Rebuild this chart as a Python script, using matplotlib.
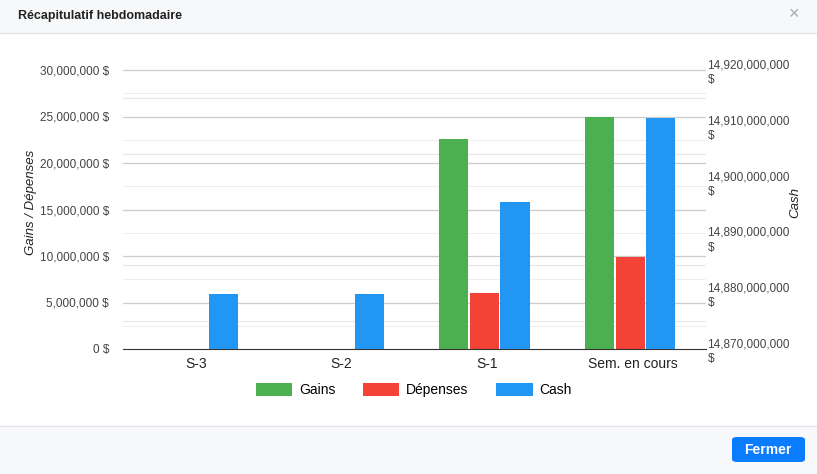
import matplotlib
matplotlib.use("Agg")
import matplotlib.pyplot as plt
from matplotlib.patches import Rectangle, FancyBboxPatch
import numpy as np

plt.rcParams["font.family"] = ["Liberation Sans", "DejaVu Sans"]

categories = ["S-3", "S-2", "S-1", "Sem. en cours"]
gains = [0, 0, 22_600_000, 25_000_000]
depenses = [0, 0, 6_000_000, 9_900_000]
cash = [14_879_900_000, 14_879_900_000, 14_896_300_000, 14_911_400_000]

W, H = 817, 474
fig = plt.figure(figsize=(W / 100, H / 100), dpi=100)
fig.patch.set_facecolor("white")

# dialog chrome
fig.patches.append(Rectangle((0, 1 - 33 / H), 1, 33 / H, transform=fig.transFigure, facecolor="#f7f8fa", edgecolor="none", zorder=-5))
fig.lines.append(plt.Line2D([0, 1], [1 - 33 / H] * 2, transform=fig.transFigure, color="#e3e5e8", lw=1))
fig.patches.append(Rectangle((0, 0), 1, 48 / H, transform=fig.transFigure, facecolor="#f7f8fa", edgecolor="none", zorder=-5))
fig.lines.append(plt.Line2D([0, 1], [48 / H] * 2, transform=fig.transFigure, color="#e3e5e8", lw=1))
fig.text(18 / W, 1 - 16 / H, "Récapitulatif hebdomadaire", fontsize=9, fontweight="bold", va="center", color="#222")
fig.text(794 / W, 1 - 15 / H, "×", fontsize=13, color="#aaa", ha="center", va="center")
fig.patches.append(FancyBboxPatch((732 / W, 12 / H), 73 / W, 25 / H, boxstyle="round,pad=0,rounding_size=0.006",
                                  transform=fig.transFigure, facecolor="#0a7cff", edgecolor="none"))
fig.text(768 / W, 24.5 / H, "Fermer", fontsize=10, fontweight="bold", color="white", ha="center", va="center")

ax = fig.add_axes([123 / W, 1 - 349 / H, 583 / W, 294 / H])
ax2 = ax.twinx()
x = np.arange(len(categories))
w = 0.2
shift = -0.02

top = 30_000_000 * 294 / 279
ax.set_ylim(0, top)
ax2.set_ylim(14_870_000_000, 14_870_000_000 + top * 5 / 3)
ax.set_xlim(-0.5, 3.5)

# grid lines on the left axes (beneath everything)
lt = np.arange(0, 30_000_001, 5_000_000)
for v in lt[1:]:
    ax.axhline(v, color="#cccccc", lw=0.9, zorder=1)
for v in np.arange(3_000_000, 30_000_000, 6_000_000):
    ax.axhline(v, color="#e6e6e6", lw=0.8, zorder=0.5)
for v in np.arange(2_500_000, 30_000_000, 5_000_000):
    ax.axhline(v, color="#efefef", lw=0.8, zorder=0.5)

ax.bar(x + shift - 0.21, gains, w, color="#4caf50", label="Gains", zorder=3)
ax.bar(x + shift, depenses, w, color="#f44336", label="Dépenses", zorder=3)
ax2.bar(x + shift + 0.21, cash, w, color="#2196f3", label="Cash", zorder=3)

ax.set_xticks(x, categories, fontsize=10, color="#222")
ax.tick_params(axis="x", length=0, pad=6)
ax.set_yticks(lt, [f"{v:,.0f} $" for v in lt], fontsize=8.5, color="#444")
ax.tick_params(axis="y", length=0, pad=10)

rt = np.arange(14_870_000_000, 14_920_000_001, 10_000_000)
ax2.set_yticks(rt, [f"{v:,.0f}\n$" for v in rt], fontsize=8.5, color="#444", linespacing=1.3)
ax2.tick_params(axis="y", length=0, pad=1)

ax.set_ylabel("Gains / Dépenses", fontsize=9.5, style="italic", color="#222")
ax.yaxis.set_label_coords(-86 / 583, 0.5)
ax2.set_ylabel("Cash", fontsize=9.5, style="italic", color="#222")
ax2.yaxis.set_label_coords(1 + 83 / 583, 0.5)
for a in (ax, ax2):
    for s in a.spines.values():
        s.set_visible(False)
ax2.spines["bottom"].set_visible(True)
ax2.spines["bottom"].set_color("#333")

h1, l1 = ax.get_legend_handles_labels()
h2, l2 = ax2.get_legend_handles_labels()
fig.legend(h1 + h2, l1 + l2, loc="center", bbox_to_anchor=(414 / W, 1 - 390 / H), ncol=3, frameon=False,
           fontsize=10, handlelength=2.6, handleheight=1.1, columnspacing=2.0, handletextpad=0.5)

fig.savefig("out.png", dpi=100, facecolor="white")
